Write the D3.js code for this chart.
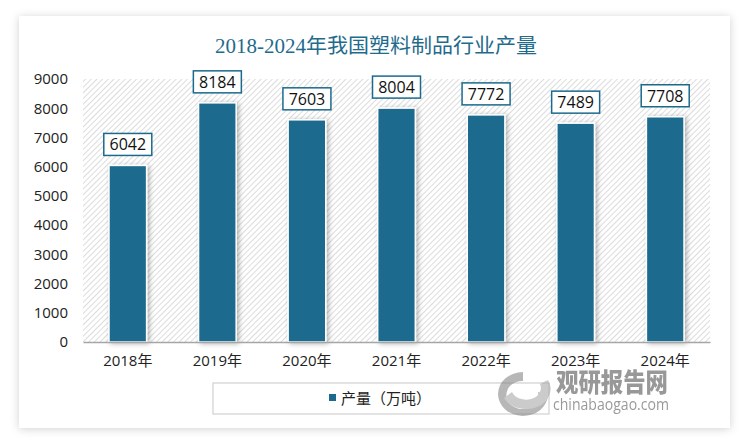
<!DOCTYPE html>
<html><head><meta charset="utf-8">
<script src="https://cdn.jsdelivr.net/npm/d3@7"></script>
<style>body{margin:0;background:#fff;}svg{display:block;}</style>
</head><body>
<svg id="chart" width="750" height="445"></svg>
<script>
const categories = ["2018年","2019年","2020年","2021年","2022年","2023年","2024年"];
const values = [6042, 8184, 7603, 8004, 7772, 7489, 7708];
const yTicks = [0,1000,2000,3000,4000,5000,6000,7000,8000,9000];
const title = "2018-2024年我国塑料制品行业产量";
const seriesName = "产量（万吨）";

(function(){
const svg = d3.select("#chart");
const defs = svg.append("defs");
const sh = defs.append("filter").attr("id","cardShadow").attr("x","-10%").attr("y","-10%").attr("width","120%").attr("height","120%");
sh.append("feDropShadow").attr("dx",0).attr("dy",1).attr("stdDeviation",4).attr("flood-color","#000").attr("flood-opacity",0.18);
const bs = defs.append("filter").attr("id","barShadow").attr("x","-30%").attr("y","-10%").attr("width","160%").attr("height","120%");
bs.append("feDropShadow").attr("dx",2).attr("dy",1).attr("stdDeviation",2.5).attr("flood-color","#000").attr("flood-opacity",0.3);
const pat = defs.append("pattern").attr("id","hatch").attr("patternUnits","userSpaceOnUse").attr("width",4).attr("height",4).attr("patternTransform","rotate(-45)");
pat.append("rect").attr("width",4).attr("height",4).attr("fill","#fff");
pat.append("line").attr("x1",0).attr("y1",0).attr("x2",4).attr("y2",0).attr("stroke","#d4d4d4").attr("stroke-width",1.6);

svg.append("rect").attr("x",19).attr("y",16).attr("width",711).attr("height",412).attr("fill","#fff").attr("filter","url(#cardShadow)");

svg.append("text").attr("x",215).attr("y",53)
  .attr("font-family","'Liberation Serif','Noto Sans CJK SC',serif").attr("font-size",20)
  .attr("fill","#1f6b8c").attr("textLength",322).attr("lengthAdjust","spacingAndGlyphs").text(title);

const pl=83, pr=710, pt=79, pb=342;
const x = d3.scaleBand().domain(categories).range([pl,pr]).paddingInner(0.58).paddingOuter(0.29);
const y = d3.scaleLinear().domain([0,9000]).range([pb,pt]);

svg.append("rect").attr("x",pl).attr("y",pt).attr("width",pr-pl).attr("height",pb-pt).attr("fill","url(#hatch)");

const ya = svg.append("g").attr("transform",`translate(${pl},0)`)
  .call(d3.axisLeft(y).tickValues(yTicks).tickFormat(d3.format("d")).tickSize(0).tickPadding(15));
ya.select(".domain").remove();
ya.selectAll("text").attr("font-family","'Open Sans','Noto Sans',sans-serif").attr("font-size",15).attr("fill","#222");

svg.append("g").selectAll("rect").data(values).join("rect")
  .attr("x",(d,i)=>x(categories[i])).attr("y",d=>y(d))
  .attr("width",x.bandwidth()).attr("height",d=>pb-y(d))
  .attr("fill","#1b6a8e").attr("stroke","#fff").attr("stroke-width",1.5)
  .attr("filter","url(#barShadow)");

const xa = svg.append("g").attr("transform",`translate(0,${pb})`)
  .call(d3.axisBottom(x).tickSize(0).tickPadding(13));
xa.select(".domain").attr("stroke","#a6a6a6").attr("stroke-width",1.5);
xa.selectAll("text").attr("font-family","'Open Sans','Noto Sans CJK SC',sans-serif").attr("font-size",15).attr("fill","#222");

const lg = svg.append("g").selectAll("g").data(values).join("g")
  .attr("transform",(d,i)=>`translate(${x(categories[i])+x.bandwidth()/2},${y(d)-21})`);
lg.append("rect").attr("x",-24).attr("y",-11).attr("width",48).attr("height",22)
  .attr("fill","#fff").attr("stroke","#1b6a8e").attr("stroke-width",1.5);
lg.append("text").attr("text-anchor","middle").attr("dy","0.36em")
  .attr("font-family","'Open Sans','Noto Sans',sans-serif").attr("font-size",16).attr("fill","#111").text(d=>d);

svg.append("rect").attr("x",213).attr("y",383).attr("width",336).attr("height",31).attr("fill","#fff").attr("stroke","#d0d0d0").attr("stroke-width",1.2);
svg.append("rect").attr("x",329).attr("y",394).attr("width",7).attr("height",7).attr("fill","#1b6a8e");
svg.append("text").attr("x",341).attr("y",404).attr("font-family","'Noto Sans CJK SC',sans-serif").attr("font-size",15).attr("fill","#222").text(seriesName);

const wm = svg.append("g").attr("opacity",0.6);
wm.append("path").attr("d","M 523 372 A 25 22 0 1 0 548 395 L 538 392 A 16 14 0 1 1 523 381 Z").attr("fill","#888");
wm.append("path").attr("d","M 504 398 A 22 18 0 0 0 548 380 L 540 384 A 14 11 0 0 1 512 392 Z").attr("fill","#aaa");
wm.append("text").attr("x",556).attr("y",392).attr("font-family","'Noto Sans CJK SC',sans-serif").attr("font-weight","900").attr("font-size",26).attr("fill","#555").attr("textLength",112).attr("lengthAdjust","spacingAndGlyphs").text("观研报告网");
wm.append("text").attr("x",553).attr("y",410).attr("font-family","'Open Sans',sans-serif").attr("font-size",17).attr("fill","#555").attr("textLength",116).attr("lengthAdjust","spacingAndGlyphs").text("chinabaogao.com");
})();
</script>
</body></html>
